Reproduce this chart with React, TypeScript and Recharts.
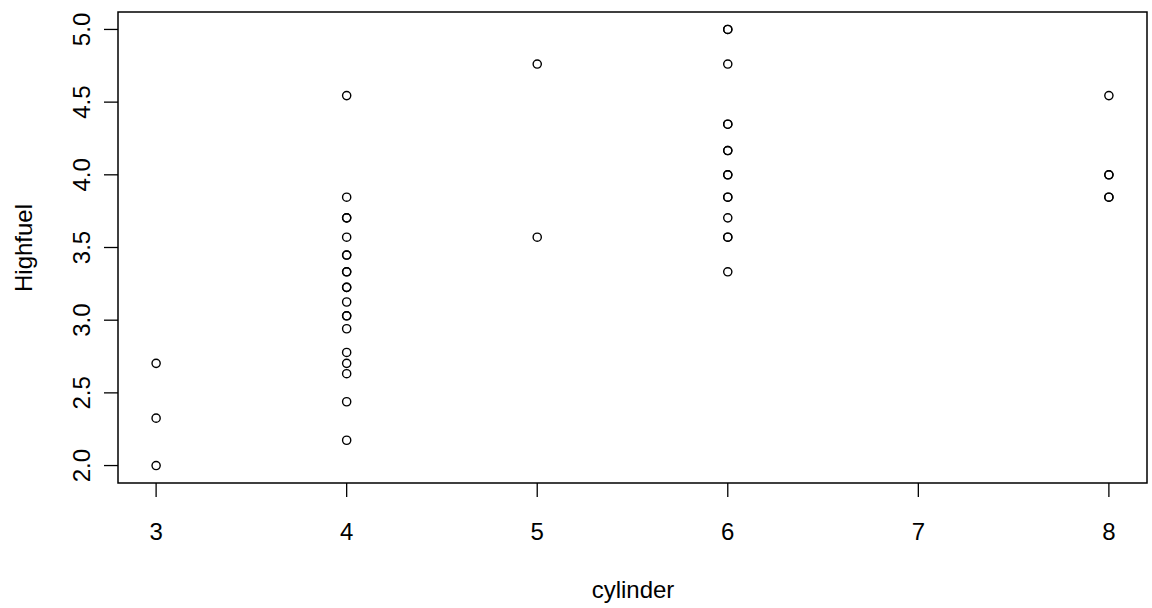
import { ReferenceArea, Scatter, ScatterChart, XAxis, YAxis } from "recharts";

const cylinders = [3, 4, 5, 6, 8];
const xTicks = [3, 4, 5, 6, 7, 8];
const yTicks = [2.0, 2.5, 3.0, 3.5, 4.0, 4.5, 5.0];

// Highfuel per cylinder group (repeats are overlapping points)
const cyl3 = [2.703, 2.326, 2.0];
const cyl4 = [
  4.545, 3.846, 3.704, 3.704, 3.571, 3.448, 3.448, 3.333, 3.333, 3.226, 3.226,
  3.125, 3.03, 3.03, 2.941, 2.778, 2.703, 2.632, 2.439, 2.174,
];
const cyl5 = [4.762, 3.571];
const cyl6 = [
  5.0, 5.0, 4.762, 4.348, 4.348, 4.167, 4.167, 4.0, 4.0, 3.846, 3.846, 3.704,
  3.571, 3.571, 3.333,
];
const cyl8 = [4.545, 4.0, 4.0, 3.846, 3.846];

const groups = [cyl3, cyl4, cyl5, cyl6, cyl8];
const points = groups.flatMap((vals, i) =>
  vals.map((v) => ({ cylinder: cylinders[i], highfuel: v }))
);

const FONT = "'Liberation Sans', Arial, sans-serif";

function YTick({ x, y, payload }: any) {
  return (
    <text
      x={x}
      y={y}
      transform={`rotate(-90, ${x}, ${y})`}
      textAnchor="middle"
      fontSize={24}
      fontFamily={FONT}
      fill="#000"
    >
      {Number(payload.value).toFixed(1)}
    </text>
  );
}

function XTick({ x, y, payload }: any) {
  return (
    <text x={x} y={y} textAnchor="middle" fontSize={24} fontFamily={FONT} fill="#000">
      {payload.value}
    </text>
  );
}

const Ring = (props: any) => (
  <circle cx={props.cx} cy={props.cy} r={4.1} fill="none" stroke="#000" strokeWidth={1.4} />
);

export default function App() {
  return (
    <div style={{ position: "absolute", left: 0, top: 0, background: "#fff" }}>
      <ScatterChart
        width={1152}
        height={608}
        margin={{ top: 12, right: 5, bottom: 0, left: 0 }}
      >
        <XAxis
          type="number"
          dataKey="cylinder"
          domain={[2.8, 8.2]}
          ticks={xTicks}
          allowDataOverflow
          axisLine={false}
          tickSize={14}
          tickLine={{ stroke: "#000", strokeWidth: 1.3 }}
          tick={(p: any) => <XTick {...p} y={540} />}
          height={125}
          label={{
            content: () => (
              <text x={633} y={598} textAnchor="middle" fontSize={24} fontFamily={FONT} fill="#000">
                cylinder
              </text>
            ),
          }}
        />
        <YAxis
          type="number"
          dataKey="highfuel"
          domain={[1.88, 5.12]}
          ticks={yTicks}
          allowDataOverflow
          axisLine={false}
          tickSize={14}
          tickLine={{ stroke: "#000", strokeWidth: 1.3 }}
          tick={(p: any) => <YTick {...p} x={90} />}
          width={118}
          label={{
            content: () => (
              <text
                x={32}
                y={248}
                transform="rotate(-90, 32, 248)"
                textAnchor="middle"
                fontSize={24}
                fontFamily={FONT}
                fill="#000"
              >
                Highfuel
              </text>
            ),
          }}
        />
        <ReferenceArea
          x1={2.8}
          x2={8.2}
          y1={1.88}
          y2={5.12}
          fill="none"
          stroke="#000"
          strokeWidth={1.5}
          ifOverflow="visible"
        />
        <Scatter data={points} shape={Ring} isAnimationActive={false} />
      </ScatterChart>
    </div>
  );
}
